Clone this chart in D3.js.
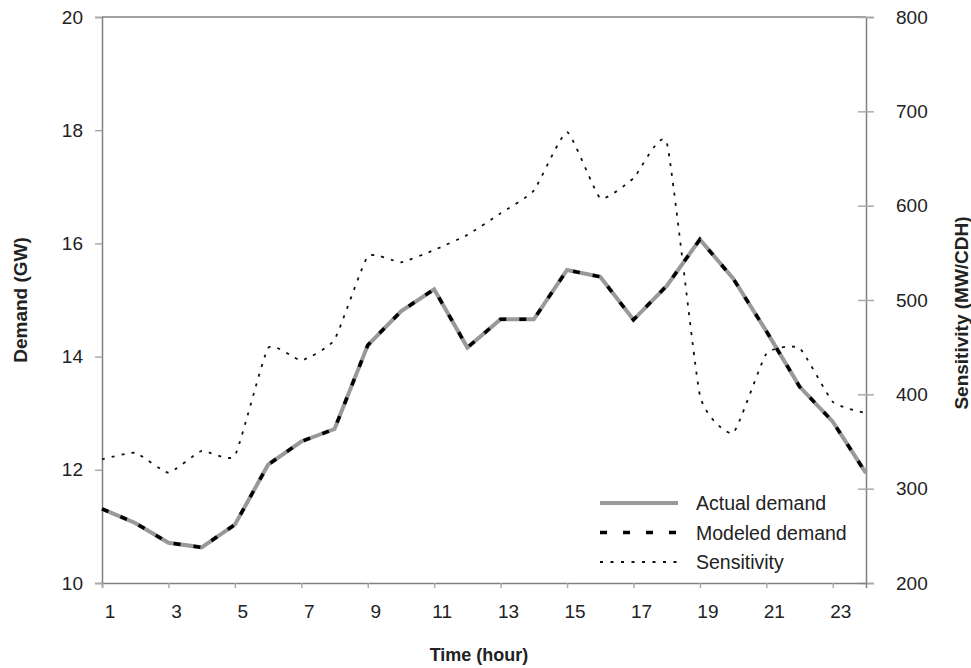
<!DOCTYPE html>
<html>
<head>
<meta charset="utf-8">
<script src="https://cdn.jsdelivr.net/npm/d3@7"></script>
<style>
  body { margin: 0; background: #fff; }
  text { font-family: "Liberation Sans", Arial, sans-serif; fill: #222; }
</style>
</head>
<body>
<script>
// data
var hours = [1,2,3,4,5,6,7,8,9,10,11,12,13,14,15,16,17,18,19,20,21,22,23,24];
var actualDemand  = [11.31,11.06,10.71,10.63,11.03,12.09,12.50,12.72,14.20,14.80,15.19,14.16,
                     14.66,14.66,15.53,15.41,14.65,15.25,16.07,15.38,14.45,13.47,12.85,11.94];
var modeledDemand = [11.31,11.06,10.71,10.63,11.03,12.09,12.50,12.72,14.20,14.80,15.19,14.16,
                     14.66,14.66,15.53,15.41,14.65,15.25,16.07,15.38,14.45,13.47,12.85,11.94];
var sensitivity   = [331,338,317,340,335,449,436,458,546,540,553,569,
                     592,616,678,608,629,667,399,359,443,449,392,380];
var xTicks = [1,3,5,7,9,11,13,15,17,19,21,23];
var leftTicks = [10,12,14,16,18,20];
var rightTicks = [200,300,400,500,600,700,800];
var legendNames = ["Actual demand", "Modeled demand", "Sensitivity"];

var width = 971, height = 668;
var margin = {top: 17, right: 105, bottom: 85, left: 102};
var w = width - margin.left - margin.right;
var h = height - margin.top - margin.bottom;

var svg = d3.select("body").append("svg")
            .attr("width", width)
            .attr("height", height);
var g = svg.append("g").attr("transform", "translate(" + margin.left + "," + margin.top + ")");

//schalen
var x = d3.scaleLinear().domain([1, 24]).range([0, w]);
var yL = d3.scaleLinear().domain([10, 20]).range([h, 0]);
var yR = d3.scaleLinear().domain([200, 800]).range([h, 0]);

var axisColor = "#808080";

//bovenrand
g.append("line").attr("x1", 0).attr("x2", w).attr("y1", 0).attr("y2", 0)
  .attr("stroke", axisColor).attr("stroke-width", 1.5);

//linker as
var leftAxis = g.append("g").call(d3.axisLeft(yL).tickValues(leftTicks).tickSize(7).tickPadding(12));
//rechter as
var rightAxis = g.append("g").attr("transform", "translate(" + w + ",0)")
  .call(d3.axisRight(yR).tickValues(rightTicks).tickSize(8).tickPadding(22));
rightAxis.selectAll(".tick line").attr("x1", -8);
//x as
var xAxis = g.append("g").attr("transform", "translate(0," + h + ")")
  .call(d3.axisBottom(x).tickValues(xTicks).tickSize(5).tickPadding(17));
xAxis.selectAll(".tick text").attr("dx", 7.5);

[leftAxis, rightAxis, xAxis].forEach(function(a){
  a.select(".domain").attr("stroke", axisColor).attr("stroke-width", 1.5);
  a.selectAll(".tick line").attr("stroke", "#aaa").attr("stroke-width", 1.5);
  a.selectAll(".tick text").style("font-size", "19px").attr("fill", "#222");
});

//lijnen
var demandLine = d3.line().x(function(d, i){ return x(hours[i]); }).y(function(d){ return yL(d); });
var sensLine = d3.line().x(function(d, i){ return x(hours[i]); }).y(function(d){ return yR(d); })
                 .curve(d3.curveCardinal.tension(0.55));

g.append("path").datum(sensitivity).attr("d", sensLine)
  .attr("fill", "none").attr("stroke", "#111").attr("stroke-width", 1.8).attr("stroke-dasharray", "3,7");
g.append("path").datum(actualDemand).attr("d", demandLine)
  .attr("fill", "none").attr("stroke", "#999").attr("stroke-width", 4);
g.append("path").datum(modeledDemand).attr("d", demandLine)
  .attr("fill", "none").attr("stroke", "#000").attr("stroke-width", 3.5).attr("stroke-dasharray", "7,13");

//legenda
var styles = [
  {stroke: "#999", width: 4, dash: null},
  {stroke: "#000", width: 3.5, dash: "7,16"},
  {stroke: "#111", width: 1.8, dash: "3,7.5"}
];
var legend = svg.append("g").attr("transform", "translate(600,503)");
legendNames.forEach(function(name, i){
  var row = legend.append("g").attr("transform", "translate(0," + (i * 29.5) + ")");
  row.append("line").attr("x1", 0).attr("x2", 78).attr("y1", 0).attr("y2", 0)
     .attr("stroke", styles[i].stroke).attr("stroke-width", styles[i].width)
     .attr("stroke-dasharray", styles[i].dash);
  row.append("text").attr("x", 96).attr("y", 0).attr("dy", "0.36em")
     .style("font-size", "19.5px").text(name);
});

//as titels
svg.append("text").attr("transform", "translate(27," + (margin.top + h / 2) + ") rotate(-90)")
  .attr("text-anchor", "middle").style("font-size", "19px").style("font-weight", "bold")
  .text("Demand (GW)");
svg.append("text").attr("transform", "translate(968," + (margin.top + h / 2 + 13) + ") rotate(-90)")
  .attr("text-anchor", "middle").style("font-size", "19px").style("font-weight", "bold")
  .text("Sensitivity (MW/CDH)");
svg.append("text").attr("x", 479).attr("y", 661)
  .attr("text-anchor", "middle").style("font-size", "18px").style("font-weight", "bold")
  .text("Time (hour)");
</script>
</body>
</html>
